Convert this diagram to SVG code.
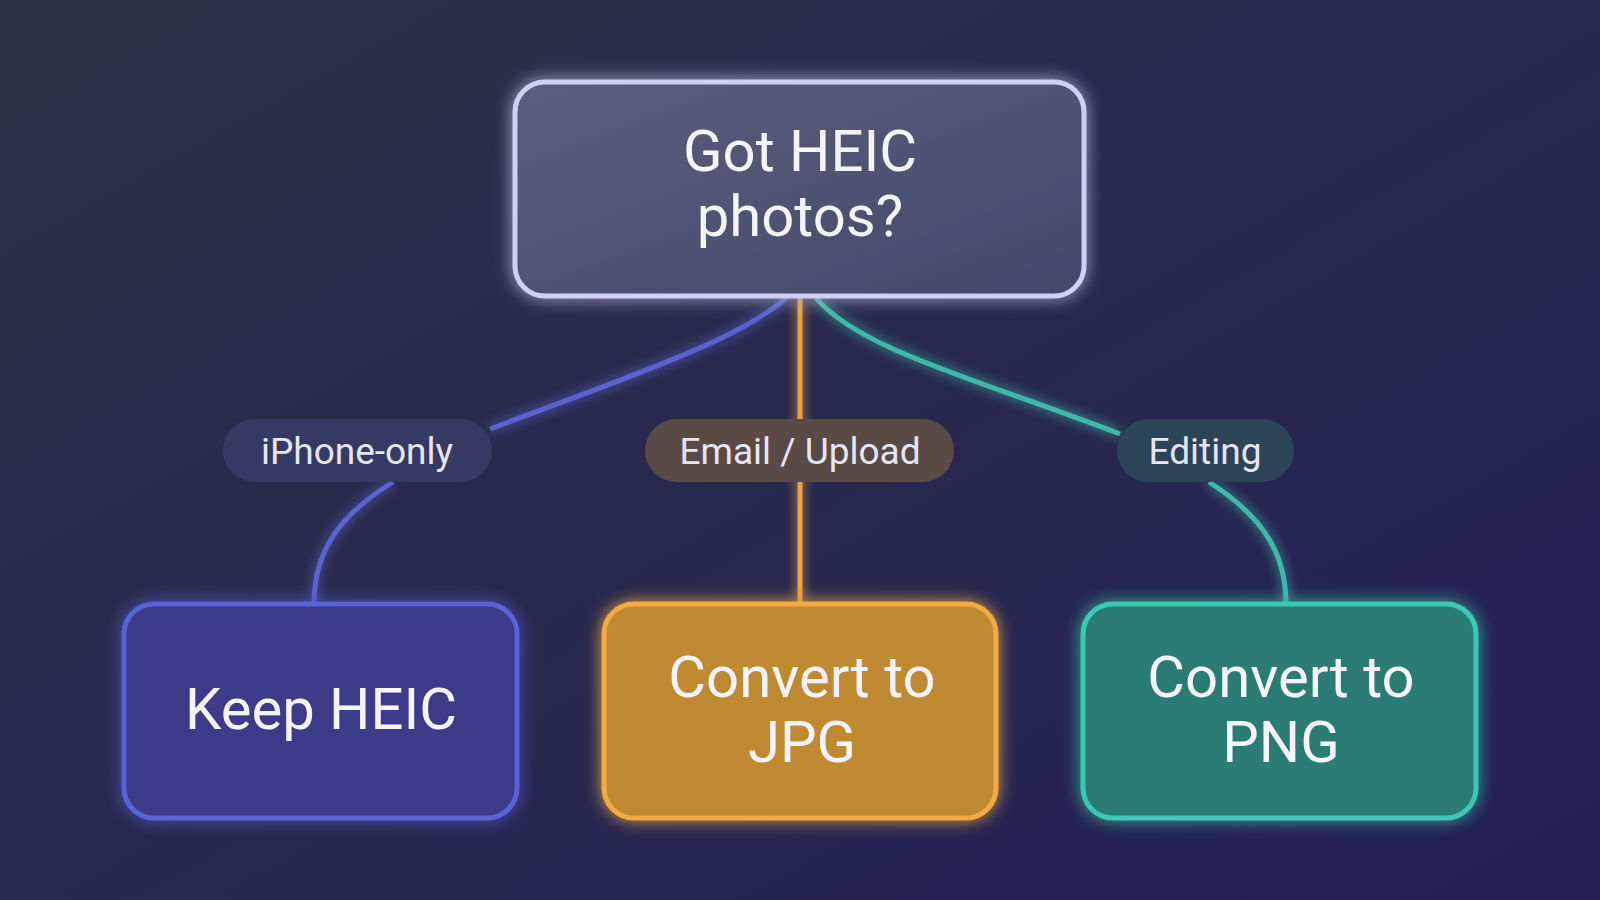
<svg xmlns="http://www.w3.org/2000/svg" width="1600" height="900" viewBox="0 0 1600 900">
<defs>
<linearGradient id="bg" x1="0" y1="0" x2="1" y2="1"><stop offset="0" stop-color="#2b3246"/><stop offset="1" stop-color="#241e56"/></linearGradient>
<linearGradient id="topg" x1="0" y1="0" x2="1" y2="1"><stop offset="0" stop-color="#5a5f7c"/><stop offset="1" stop-color="#45486a"/></linearGradient>
<filter id="glow" x="-20%" y="-20%" width="140%" height="140%"><feGaussianBlur stdDeviation="8" result="b"/><feMerge><feMergeNode in="b"/><feMergeNode in="SourceGraphic"/></feMerge></filter>
<filter id="lglow" filterUnits="userSpaceOnUse" x="0" y="0" width="1600" height="900"><feGaussianBlur stdDeviation="6" result="b"/><feMerge><feMergeNode in="b"/><feMergeNode in="SourceGraphic"/></feMerge></filter>
<style>
.t{font-family:Roboto,"Noto Sans",sans-serif;fill:#f4f4fa;text-anchor:middle}
.big{font-size:58px}
.lab{font-size:37px;fill:#e6e6f2}
.ln{fill:none;stroke-width:5;filter:url(#lglow)}
</style>
</defs>
<rect width="1600" height="900" fill="url(#bg)"/>
<g id="connectors">
<path class="ln" stroke="#5a62d0" d="M786 298 C740 340 620 380 490 429"/>
<path class="ln" stroke="#5a62d0" d="M393 482 C340 515 314 550 314 604"/>
<path class="ln" stroke="#e8a040" d="M800 298 L800 604"/>
<path class="ln" stroke="#40b8a8" d="M816 298 C860 350 980 380 1120 434"/>
<path class="ln" stroke="#40b8a8" d="M1209 482 C1260 515 1286 550 1286 604"/>
</g>
<g id="top"><rect x="515" y="82" width="569" height="214" rx="30" fill="url(#topg)" stroke="#cfd0f4" stroke-width="5" filter="url(#glow)"/>
<text class="t big" x="800" y="171">Got HEIC</text><text class="t big" x="800" y="236">photos?</text></g>
<g id="l1"><rect x="223" y="419" width="269" height="63" rx="31.5" fill="#343a64"/><text class="t lab" x="357" y="464">iPhone-only</text></g>
<g id="l2"><rect x="645" y="419" width="309" height="63" rx="31.5" fill="#5a4a46"/><text class="t lab" x="800" y="464">Email / Upload</text></g>
<g id="l3"><rect x="1117" y="419" width="177" height="63" rx="31.5" fill="#2c4458"/><text class="t lab" x="1205" y="464">Editing</text></g>
<g id="keep"><rect x="124" y="604" width="393" height="214" rx="30" fill="#3b3a8a" stroke="#5a62d8" stroke-width="5" filter="url(#glow)"/>
<text class="t big" x="321" y="729">Keep HEIC</text></g>
<g id="jpg"><rect x="604" y="604" width="392" height="214" rx="30" fill="#c08a32" stroke="#f2aa42" stroke-width="5" filter="url(#glow)"/>
<text class="t big" x="802" y="697">Convert to</text><text class="t big" x="802" y="762">JPG</text></g>
<g id="png"><rect x="1083" y="604" width="393" height="214" rx="30" fill="#2a7c74" stroke="#3ec8b2" stroke-width="5" filter="url(#glow)"/>
<text class="t big" x="1281" y="697">Convert to</text><text class="t big" x="1281" y="762">PNG</text></g>
</svg>
